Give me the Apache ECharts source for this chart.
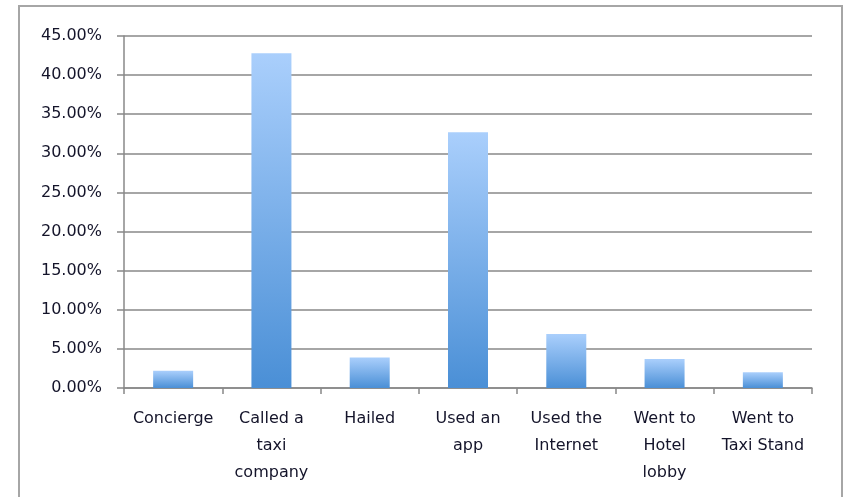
<!DOCTYPE html>
<html>
<head>
<meta charset="utf-8">
<script src="https://cdn.jsdelivr.net/npm/echarts@6/dist/echarts.min.js"></script>
<style>
  html, body { margin: 0; padding: 0; background: #fff; }
  #frame {
    position: absolute; left: 18px; top: 5px; width: 821px; height: 500px;
    border-left: 2px solid #a6a6a6; border-top: 2px solid #a6a6a6; border-right: 2px solid #a6a6a6;
  }
  #chart { position: absolute; left: 0; top: 0; width: 845px; height: 497px; }
</style>
</head>
<body>
<div id="frame"></div>
<div id="chart"></div>
<script>
// how people got a taxi (share of respondents, %)
const categories = ["Concierge", "Called a\ntaxi\ncompany", "Hailed", "Used an\napp", "Used the\nInternet", "Went to\nHotel\nlobby", "Went to\nTaxi Stand"];
const shares = [2.2, 42.8, 3.9, 32.7, 6.9, 3.7, 2.0];

const textColor = "#14142a";
const lineColor = "#888888";

const chart = echarts.init(document.getElementById("chart"));
chart.setOption({
  animation: false,
  grid: { left: 124, right: 33, top: 36, bottom: 109 },
  xAxis: {
    type: "category",
    data: categories,
    axisLine: { lineStyle: { color: lineColor, width: 1.5 } },
    axisTick: { show: true, length: 6, lineStyle: { color: lineColor, width: 1.5 } },
    axisLabel: {
      interval: 0,
      margin: 17,
      color: textColor,
      fontFamily: "DejaVu Sans",
      fontSize: 16,
      lineHeight: 27
    }
  },
  yAxis: {
    type: "value",
    min: 0,
    max: 45,
    interval: 5,
    axisLine: { show: true, lineStyle: { color: lineColor, width: 1.5 } },
    axisTick: { show: true, length: 7, lineStyle: { color: lineColor, width: 1.5 } },
    splitLine: { lineStyle: { color: lineColor, width: 1.5 } },
    axisLabel: {
      margin: 22,
      color: textColor,
      fontFamily: "DejaVu Sans",
      fontSize: 16,
      formatter: v => v.toFixed(2) + "%"
    }
  },
  series: [
    {
      type: "bar",
      data: shares,
      barWidth: 40,
      itemStyle: {
        color: new echarts.graphic.LinearGradient(0, 0, 0, 1, [
          { offset: 0, color: "#aacffc" },
          { offset: 1, color: "#4a8fd6" }
        ])
      }
    }
  ]
});
</script>
</body>
</html>
